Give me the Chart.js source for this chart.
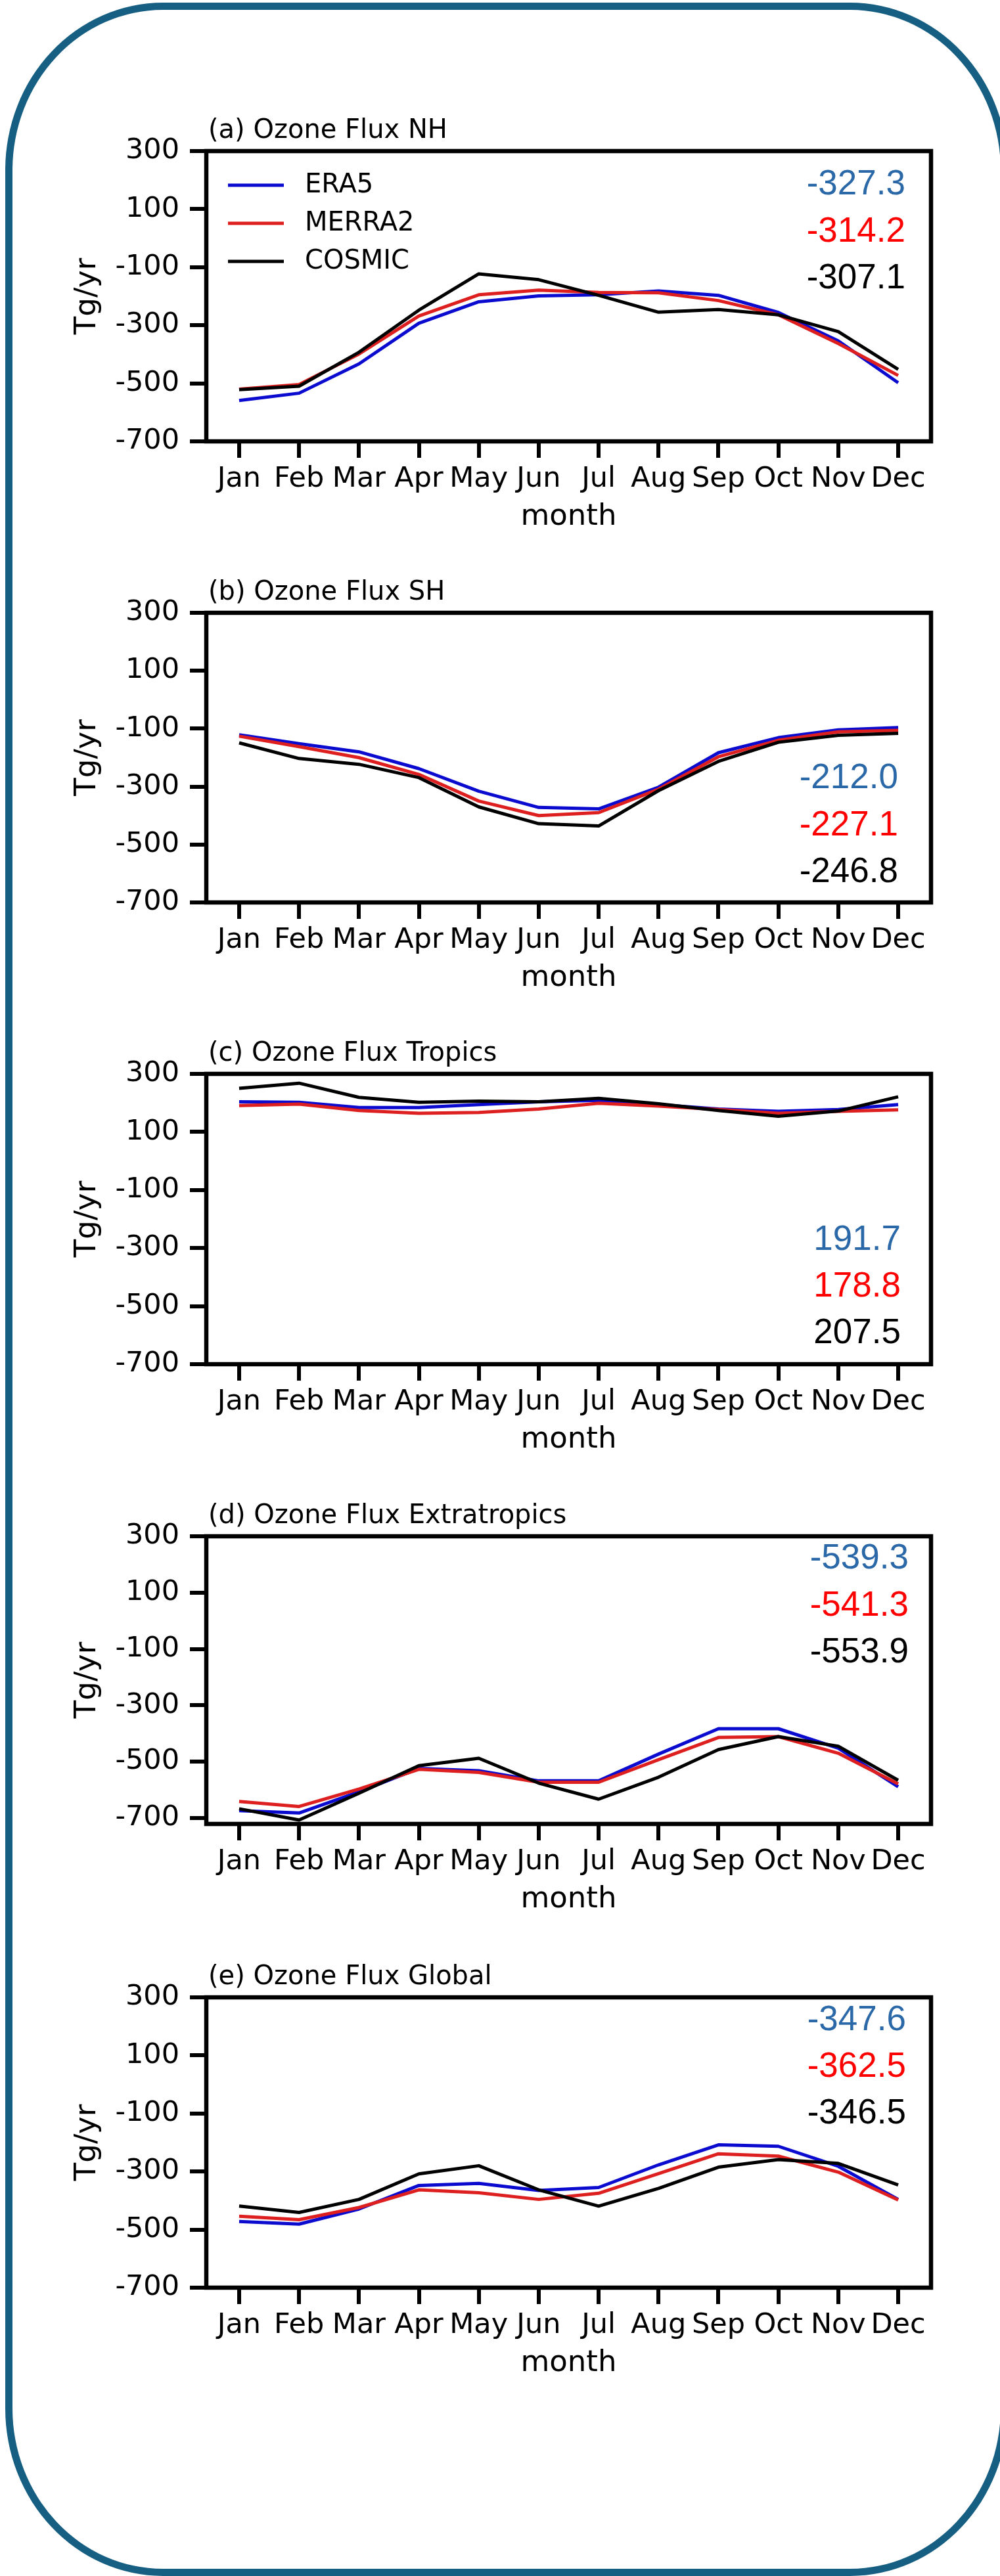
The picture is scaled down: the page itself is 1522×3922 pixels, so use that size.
<!DOCTYPE html>
<html>
<head>
<meta charset="utf-8">
<script src="https://cdn.jsdelivr.net/npm/chart.js@4/dist/chart.umd.min.js"></script>
<style>
html,body{margin:0;padding:0;background:#fff;width:1522px;height:3922px;overflow:hidden;position:relative;}
#frame{position:absolute;left:8px;top:4px;width:1526px;height:3918px;box-sizing:border-box;border:11px solid #175f82;border-radius:240px/255px;pointer-events:none;}
canvas{position:absolute;left:0;}
</style>
</head>
<body>
<div id="frame"></div>
<script>
// ---------- data ----------
const months = ['Jan','Feb','Mar','Apr','May','Jun','Jul','Aug','Sep','Oct','Nov','Dec'];
const yTicks = [300, 100, -100, -300, -500, -700];
const seriesNames = ['ERA5', 'MERRA2', 'COSMIC'];
const panelTitles = ['(a) Ozone Flux NH', '(b) Ozone Flux SH', '(c) Ozone Flux Tropics', '(d) Ozone Flux Extratropics', '(e) Ozone Flux Global'];

const era5NH   = [-559, -534, -433, -293, -219, -199, -195, -182, -197, -256, -354, -498];
const merra2NH = [-520, -504, -399, -268, -195, -179, -187, -188, -215, -264, -363, -473];
const cosmicNH = [-522, -510, -393, -248, -123, -143, -197, -255, -246, -264, -322, -452];

const era5SH   = [-121, -152, -180, -238, -316, -372, -377, -302, -183, -131, -104, -96];
const merra2SH = [-126, -162, -200, -258, -350, -400, -390, -309, -197, -140, -111, -106];
const cosmicSH = [-149, -203, -223, -269, -370, -428, -436, -314, -213, -147, -123, -116];

const era5TR   = [204, 202, 184, 184, 194, 204, 209, 194, 179, 171, 177, 194];
const merra2TR = [191, 196, 174, 164, 167, 179, 199, 189, 177, 164, 171, 176];
const cosmicTR = [250, 268, 219, 202, 206, 204, 216, 197, 174, 154, 172, 221];

const era5EX   = [-674, -682, -607, -524, -532, -568, -568, -473, -383, -383, -452, -589];
const merra2EX = [-641, -659, -597, -527, -538, -573, -573, -493, -414, -411, -470, -579];
const cosmicEX = [-667, -707, -612, -514, -488, -576, -633, -555, -457, -411, -445, -566];

const era5GL   = [-472, -481, -429, -348, -341, -365, -355, -277, -208, -213, -282, -396];
const merra2GL = [-454, -466, -424, -363, -373, -396, -375, -307, -239, -247, -302, -398];
const cosmicGL = [-419, -441, -396, -308, -280, -363, -419, -358, -285, -259, -272, -346];

const meanERA5   = [-327.3, -212.0, 191.7, -539.3, -347.6];
const meanMERRA2 = [-314.2, -227.1, 178.8, -541.3, -362.5];
const meanCOSMIC = [-307.1, -246.8, 207.5, -553.9, -346.5];

const yMins = [-700, -700, -700, -721, -700];
const yMax = 300;

// ---------- styles / layout ----------
const lineColors = ['#0b0bd0', '#dd1f1f', '#000000'];
const meanColors = ['#2a68a8', '#ff0000', '#000000'];
const panelTop   = [230, 933, 1635, 2339, 3041];
const plotH      = [442, 441, 442, 438, 442];
const annRight   = [39, 50, 46, 34, 38];
const annBase    = [[66,138,209],[267,339,410],[268,339,410],[49,121,192],[50,121,192]];
const TOP_PAD = 80, XAXIS_H = 150, LEFT_PAD = 80, PLOT_LEFT = 314, PLOT_RIGHT = 1417, W = 1522;

const panelSeries = [
  [era5NH, merra2NH, cosmicNH],
  [era5SH, merra2SH, cosmicSH],
  [era5TR, merra2TR, cosmicTR],
  [era5EX, merra2EX, cosmicEX],
  [era5GL, merra2GL, cosmicGL]
];

const decor = {
  id: 'decor',
  afterDatasetsDraw(chart, args, o) {
    const ctx = chart.ctx, a = chart.chartArea;
    ctx.save();
    ctx.strokeStyle = '#000'; ctx.lineWidth = 6.5; ctx.lineJoin = 'miter';
    ctx.strokeRect(a.left, a.top, a.right - a.left, a.bottom - a.top);
    ctx.fillStyle = '#000';
    ctx.font = '40px "DejaVu Sans"';
    ctx.textAlign = 'left'; ctx.textBaseline = 'alphabetic';
    ctx.fillText(o.title, a.left + 3, a.top - 20);
    if (o.legend) {
      chart.data.datasets.forEach((ds, i) => {
        const y = a.top + 52 + i * 58;
        ctx.strokeStyle = ds.borderColor; ctx.lineWidth = 5; ctx.lineCap = 'butt';
        ctx.beginPath(); ctx.moveTo(a.left + 33, y); ctx.lineTo(a.left + 118, y); ctx.stroke();
        ctx.fillStyle = '#000'; ctx.textBaseline = 'middle';
        ctx.fillText(ds.label, a.left + 150, y + 1);
      });
    }
    ctx.font = '53px "Liberation Sans"'; ctx.textAlign = 'right'; ctx.textBaseline = 'alphabetic';
    o.means.forEach((m, i) => {
      ctx.fillStyle = meanColors[i];
      ctx.fillText(m.toFixed(1), a.right - o.annRight, a.top + o.annBase[i]);
    });
    ctx.restore();
  }
};

panelSeries.forEach((series, k) => {
  const cv = document.createElement('canvas');
  const H = TOP_PAD + plotH[k] + XAXIS_H;
  cv.width = W; cv.height = H;
  cv.style.width = W + 'px'; cv.style.height = H + 'px';
  cv.style.top = (panelTop[k] - TOP_PAD) + 'px';
  document.body.appendChild(cv);
  const tickFont = {family: 'DejaVu Sans', size: 43};
  const gridOpts = {display: true, drawOnChartArea: false, drawTicks: true, tickLength: 25, tickWidth: 6, tickColor: '#000', lineWidth: 6, color: '#000'};
  new Chart(cv, {
    type: 'line',
    data: {
      datasets: seriesNames.map((name, j) => ({
        label: name,
        data: months.map((m, i) => ({x: i, y: series[j][i]})),
        borderColor: lineColors[j],
        backgroundColor: lineColors[j],
        borderWidth: 5,
        pointRadius: 0,
        tension: 0,
        fill: false,
        order: 3 - j,
        borderJoinStyle: 'round'
      }))
    },
    options: {
      responsive: false,
      animation: false,
      devicePixelRatio: 1,
      layout: {padding: {left: LEFT_PAD, right: W - PLOT_RIGHT, top: TOP_PAD, bottom: 0}},
      plugins: {
        legend: {display: false},
        tooltip: {enabled: false},
        decor: {title: panelTitles[k], legend: k === 0, means: [meanERA5[k], meanMERRA2[k], meanCOSMIC[k]], annRight: annRight[k], annBase: annBase[k]}
      },
      scales: {
        x: {
          type: 'linear', min: -0.548, max: 11.548,
          afterBuildTicks: s => { s.ticks = months.map((m, i) => ({value: i})); },
          afterFit: s => { s.height = XAXIS_H; },
          ticks: {autoSkip: false, maxRotation: 0, minRotation: 0, padding: 7, color: '#000', font: tickFont,
                  callback: v => months[v]},
          grid: gridOpts,
          border: {display: false},
          title: {display: true, text: 'month', color: '#000', font: {family: 'DejaVu Sans', size: 45}, padding: {top: 0, bottom: 8}}
        },
        y: {
          type: 'linear', min: yMins[k], max: yMax,
          afterBuildTicks: s => { s.ticks = yTicks.map(v => ({value: v})); },
          afterFit: s => { s.width = PLOT_LEFT - LEFT_PAD; },
          ticks: {padding: 16, color: '#000', font: tickFont, callback: v => String(v)},
          grid: gridOpts,
          border: {display: false},
          title: {display: true, text: 'Tg/yr', color: '#000', font: {family: 'DejaVu Sans', size: 45}, padding: {top: 26, bottom: 0}}
        }
      }
    },
    plugins: [decor]
  });
});
</script>
</body>
</html>
